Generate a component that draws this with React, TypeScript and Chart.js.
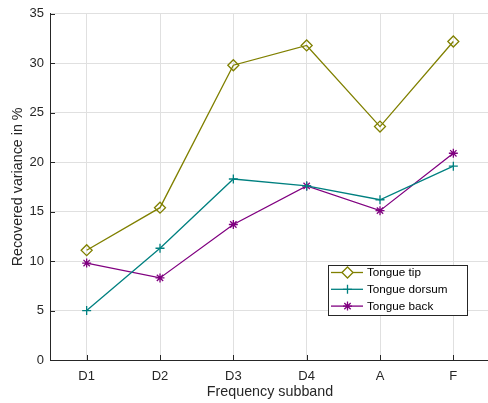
import React, { useEffect, useRef } from "react";
import { Chart, registerables } from "chart.js";
import { drawPoint } from "chart.js/helpers";

Chart.register(...registerables);

const categories = ["D1", "D2", "D3", "D4", "A", "F"];
const tongueTip = [11.1, 15.4, 29.8, 31.8, 23.6, 32.2];
const tongueDorsum = [5.0, 11.3, 18.3, 17.6, 16.2, 19.6];
const tongueBack = [9.8, 8.3, 13.7, 17.6, 15.1, 20.9];
const seriesNames = ["Tongue tip", "Tongue dorsum", "Tongue back"];
const seriesColors = ["#808000", "#008080", "#800080"];
const seriesMarkers = ["rectRot", "cross", "star"];
const markerSizes = [5.5, 4.5, 4.5];

const FONT = "'Liberation Sans', Arial, Helvetica, sans-serif";
const AXIS_COLOR = "#262626";

const inwardTicks = {
  id: "inwardTicks",
  afterDraw(chart: any) {
    const { ctx, chartArea, scales } = chart;
    const len = 5;
    ctx.save();
    ctx.strokeStyle = AXIS_COLOR;
    ctx.lineWidth = 1;
    ctx.beginPath();
    const ys = scales.y;
    ys.ticks.forEach((t: any) => {
      const py = Math.round(ys.getPixelForValue(t.value)) + 0.5;
      ctx.moveTo(chartArea.left, py);
      ctx.lineTo(chartArea.left + len, py);
    });
    const xs = scales.x;
    xs.ticks.forEach((_t: any, i: number) => {
      const px = Math.round(xs.getPixelForTick(i)) + 0.5;
      ctx.moveTo(px, chartArea.bottom);
      ctx.lineTo(px, chartArea.bottom - len);
    });
    ctx.stroke();
    ctx.restore();
  },
};

const boxLegend = {
  id: "boxLegend",
  afterDraw(chart: any) {
    const { ctx, chartArea } = chart;
    const boxRight = chartArea.right - 23;
    const boxBottom = chartArea.bottom - 45;
    const boxW = 139;
    const rowH = 16.8;
    const boxH = 50;
    const left = boxRight - boxW;
    const top = boxBottom - boxH;
    ctx.save();
    ctx.fillStyle = "#ffffff";
    ctx.fillRect(left, top, boxW, boxH);
    ctx.strokeStyle = AXIS_COLOR;
    ctx.lineWidth = 1;
    ctx.strokeRect(Math.round(left) + 0.5, Math.round(top) + 0.5, Math.round(boxW), Math.round(boxH));
    chart.data.datasets.forEach((ds: any, i: number) => {
      const cy = top + 7.5 + rowH * i;
      ctx.strokeStyle = ds.borderColor;
      ctx.lineWidth = 1.3;
      ctx.beginPath();
      ctx.moveTo(left + 3, cy);
      ctx.lineTo(left + 35, cy);
      ctx.stroke();
      ctx.fillStyle = "#ffffff";
      ctx.strokeStyle = ds.borderColor;
      drawPoint(
        ctx,
        {
          pointStyle: ds.pointStyle,
          radius: ds.pointRadius,
          borderWidth: 1.3,
          rotation: 0,
        } as any,
        left + 19.5,
        cy
      );
      ctx.fillStyle = "#000000";
      ctx.font = `11.7px ${FONT}`;
      ctx.textAlign = "left";
      ctx.textBaseline = "middle";
      ctx.fillText(ds.label, left + 39, cy + 0.5);
    });
    ctx.restore();
  },
};

export default function App() {
  const canvasRef = useRef<HTMLCanvasElement | null>(null);

  useEffect(() => {
    const canvas = canvasRef.current;
    if (!canvas) return;
    const data = [tongueTip, tongueDorsum, tongueBack];
    const chart = new Chart(canvas, {
      type: "line",
      data: {
        labels: categories,
        datasets: data.map((values, i) => ({
          label: seriesNames[i],
          data: values,
          borderColor: seriesColors[i],
          backgroundColor: "#ffffff",
          pointBackgroundColor: "rgba(255,255,255,0)",
          pointBorderColor: seriesColors[i],
          pointStyle: seriesMarkers[i] as any,
          pointRadius: markerSizes[i],
          pointBorderWidth: 1.3,
          borderWidth: 1.3,
          tension: 0,
          fill: false,
        })),
      },
      options: {
        responsive: false,
        animation: false,
        devicePixelRatio: 1,
        layout: { padding: { top: 13, right: 0, left: 0, bottom: 0 }, autoPadding: false },
        plugins: {
          legend: { display: false },
          tooltip: { enabled: false },
        },
        scales: {
          x: {
            type: "category",
            offset: true,
            grid: {
              display: true,
              color: "#e0e0e0",
              drawTicks: false,
              offset: false,
            },
            border: { display: true, color: AXIS_COLOR, width: 1 },
            ticks: {
              color: "#262626",
              font: { family: FONT, size: 13 },
              padding: 9,
              maxRotation: 0,
              autoSkip: false,
            },
            title: {
              display: true,
              text: "Frequency subband",
              color: "#262626",
              font: { family: FONT, size: 14.3 },
              padding: { top: 0, bottom: 2.5 },
            },
            afterFit(scale: any) {
              scale.height = 43;
            },
          },
          y: {
            min: 0,
            max: 35,
            grid: {
              color: "#e0e0e0",
              drawTicks: false,
            },
            border: { display: true, color: AXIS_COLOR, width: 1 },
            ticks: {
              stepSize: 5,
              color: "#262626",
              font: { family: FONT, size: 13 },
              padding: 6,
            },
            title: {
              display: true,
              text: "Recovered variance in %",
              color: "#262626",
              font: { family: FONT, size: 14.3 },
              padding: { top: 9, bottom: 0 },
            },
            afterFit(scale: any) {
              scale.width = 50;
            },
          },
        },
      },
      plugins: [inwardTicks, boxLegend],
    });
    return () => chart.destroy();
  }, []);

  return (
    <div style={{ position: "fixed", left: 0, top: 0, width: 490, height: 403, background: "#ffffff" }}>
      <canvas ref={canvasRef} width={490} height={403} style={{ width: 490, height: 403, display: "block" }} />
    </div>
  );
}
